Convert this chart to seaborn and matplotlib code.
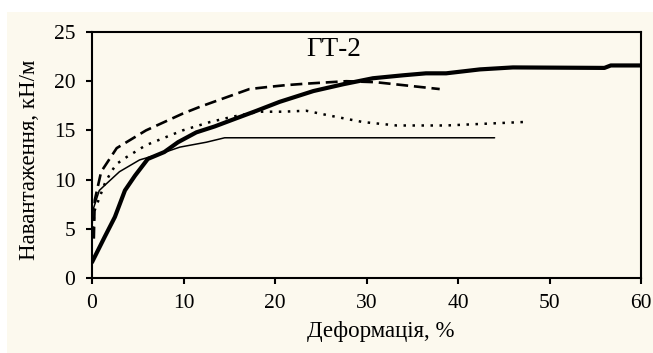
import matplotlib
matplotlib.use("Agg")
import matplotlib.pyplot as plt
from matplotlib.patches import Rectangle
import seaborn as sns
import pandas as pd

# ---- data ----
thick_x = [0, 1.4, 2.5, 3.6, 4.7, 6.1, 7.9, 9.4, 11.4, 13.4, 15.4, 18.0, 20.5, 24.2, 27.5,
           30.7, 34, 36.5, 38.7, 42.4, 46, 56, 56.7, 60]
thick_y = [1.6, 4.2, 6.2, 8.9, 10.4, 12.1, 12.8, 13.8, 14.8, 15.4, 16.1, 17.0, 17.9, 19.0, 19.7,
           20.3, 20.6, 20.8, 20.8, 21.2, 21.4, 21.35, 21.6, 21.6]

thin_x = [0, 0.1, 0.8, 1.6, 3.0, 5.2, 7.4, 9.6, 12.5, 14.5, 44]
thin_y = [5.0, 6.9, 8.9, 9.6, 10.8, 12.0, 12.6, 13.3, 13.8, 14.25, 14.25]

dash_x = [0.2, 0.3, 1.0, 2.7, 5.9, 9.9, 11.8, 15.4, 17.2, 19.1, 21.2, 23.4, 27.8, 31, 34, 38]
dash_y = [4.0, 7.9, 10.8, 13.2, 15.0, 16.7, 17.4, 18.6, 19.2, 19.4, 19.6, 19.75, 20.0, 19.9, 19.6, 19.2]

dot_x = [0.1, 0.3, 1.4, 2.1, 2.7, 3.8, 5.9, 9.9, 12.9, 15.4, 18.3, 20.9, 23.4, 26, 29.6, 33.3, 38.7, 47.1]
dot_y = [5.0, 6.9, 9.6, 10.8, 11.6, 12.3, 13.5, 15.0, 15.85, 16.4, 16.9, 16.9, 17.0, 16.5, 15.85, 15.5, 15.5, 15.85]

x_ticks = [0, 10, 20, 30, 40, 50, 60]
y_ticks = [0, 5, 10, 15, 20, 25]
title_text = "ГТ-2"
x_label = "Деформація, %"
y_label = "Навантаження, кН/м"

# ---- style ----
sns.set_theme(style="ticks")
plt.rcParams["font.family"] = ["Liberation Serif", "DejaVu Serif"]
beige = "#fcf9ee"

fig = plt.figure(figsize=(6.53, 3.53), dpi=100, facecolor="white")
fig.patches.append(Rectangle((7 / 653, 0), 1, 1 - 12 / 353, transform=fig.transFigure,
                             facecolor=beige, edgecolor="none", zorder=-10))
ax = fig.add_axes([92 / 653, 1 - 278 / 353, (641 - 92) / 653, (278 - 32) / 353])
ax.set_facecolor(beige)

series = [
    (thick_x, thick_y, dict(lw=3.0, ls="-")),
    (thin_x, thin_y, dict(lw=1.1, ls="-")),
    (dash_x, dash_y, dict(lw=1.9, dashes=(4.5, 2.2))),
    (dot_x, dot_y, dict(lw=1.8, dashes=(1.0, 2.6))),
]
for xs, ys, kw in series:
    df = pd.DataFrame({"x": xs, "y": ys})
    line_kw = dict(kw)
    dashes = line_kw.pop("dashes", None)
    sns.lineplot(data=df, x="x", y="y", ax=ax, color="black", sort=False,
                 estimator=None, **line_kw)
    if dashes is not None:
        ax.lines[-1].set_dashes(dashes)

ax.set_xlim(0, 60)
ax.set_ylim(0, 25)
ax.set_xticks(x_ticks)
ax.set_yticks(y_ticks)
ax.set_xticklabels([str(v) for v in x_ticks])
ax.set_yticklabels([str(v) for v in y_ticks])
for s in ax.spines.values():
    s.set_visible(True)
    s.set_linewidth(1.5)
    s.set_color("black")
ax.tick_params(axis="both", direction="out", length=4, width=1.5, color="black",
               labelsize=15.5, labelcolor="black")
ax.tick_params(axis="x", pad=7.5)
ax.tick_params(axis="y", pad=8)

ax.set_xlabel(x_label, fontsize=16.5, color="black")
ax.set_ylabel(y_label, fontsize=16.5, color="black")
ax.xaxis.set_label_coords((381 - 92) / 549, (278 - 331) / 246)
ax.xaxis.label.set_va("center")
ax.yaxis.set_label_coords((30 - 92) / 549, (278 - 160) / 246)
ax.yaxis.label.set_va("center")

ax.text((334 - 92) / 549, (278 - 50) / 246, title_text, transform=ax.transAxes,
        fontsize=19.5, ha="center", va="center", color="black")

fig.savefig("out.png", dpi=100, facecolor=fig.get_facecolor())
